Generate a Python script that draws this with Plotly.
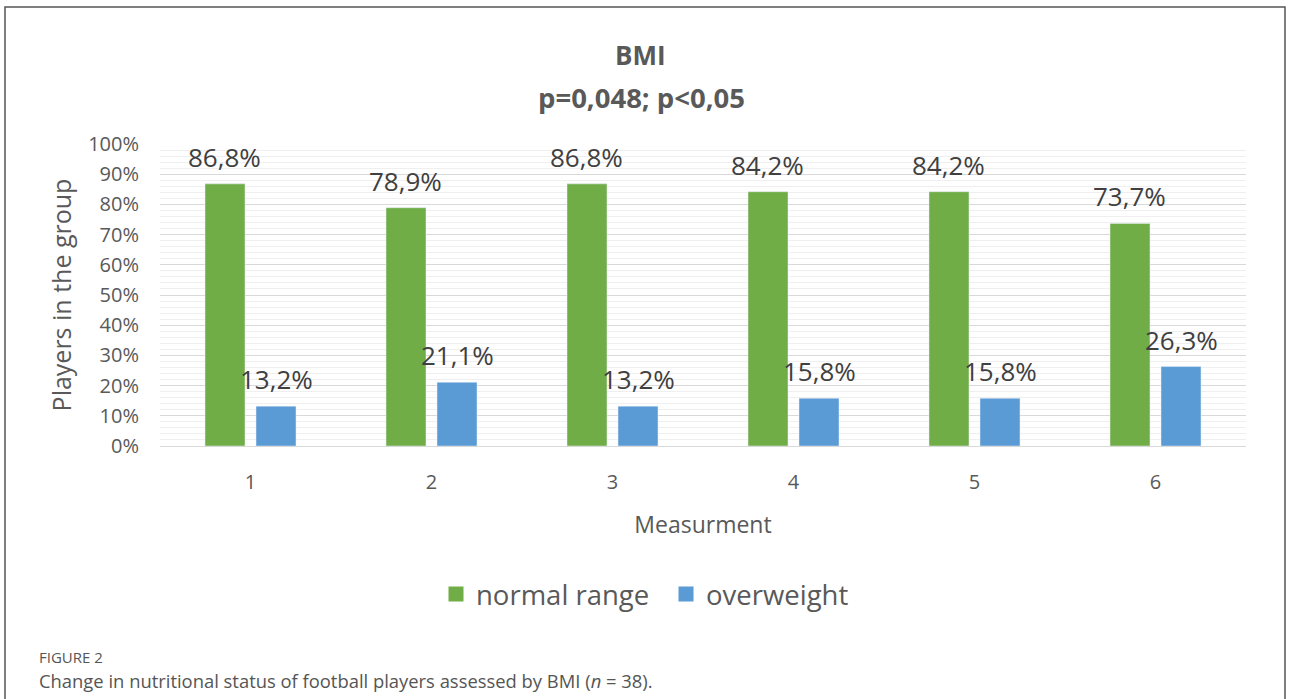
import plotly.graph_objects as go

categories = ["1", "2", "3", "4", "5", "6"]
normal_range = [0.868, 0.789, 0.868, 0.842, 0.842, 0.737]
overweight = [0.132, 0.211, 0.132, 0.158, 0.158, 0.263]
y_ticks = [0, 0.1, 0.2, 0.3, 0.4, 0.5, 0.6, 0.7, 0.8, 0.9, 1.0]
series_names = ["normal range", "overweight"]
series_colors = ["#70AD47", "#5B9BD5"]


def fmt(v):
    return f"{v*100:.1f}%".replace(".", ",")


FONT = "'Open Sans', sans-serif"
TXT = "#595959"

# plot-area geometry (pixels)
L, R, T, B = 160, 44, 144, 253
W, H = 1290, 699
PW, PH = W - L - R, H - T - B


def px_x(x):
    return (x - L) / PW


def px_y(y):
    return (H - B - y) / PH


fig = go.Figure()
for name, vals, col in zip(series_names, [normal_range, overweight], series_colors):
    fig.add_trace(go.Bar(x=categories, y=vals, name=name, marker_color=col,
                         showlegend=False, hoverinfo="skip"))
    # legend proxy with larger square symbol
    fig.add_trace(go.Scatter(x=[None], y=[None], mode="markers", name=name,
                             marker=dict(symbol="square", size=15, color=col),
                             showlegend=True, hoverinfo="skip"))

# data labels above bars (category index +/- group offset)
offset = 0.141
for k, vals in enumerate([normal_range, overweight]):
    sign = -1 if k == 0 else 1
    for i, v in enumerate(vals):
        fig.add_annotation(x=i + sign * offset, y=v, xref="x", yref="y",
                           text=fmt(v), showarrow=False, yshift=27, yanchor="middle",
                           font=dict(size=26, color="#404040", family=FONT))

fig.update_layout(
    width=W, height=H,
    paper_bgcolor="white", plot_bgcolor="white",
    font=dict(family=FONT, color=TXT),
    barmode="group", bargap=0.4365, bargroupgap=0.216,
    margin=dict(l=L, r=R, t=T, b=B),
    legend=dict(orientation="h", x=px_x(666), xanchor="center", xref="paper",
                y=(H - 594) / H, yref="container", yanchor="middle",
                font=dict(size=27.5, color=TXT), traceorder="normal",
                entrywidth=185, entrywidthmode="pixels"),
)

fig.update_yaxes(range=[0, 1], tickvals=y_ticks, tickformat=".0%",
                 tickfont=dict(size=20, color=TXT), ticklabelstandoff=20,
                 showgrid=True, gridcolor="#d9d9d9", gridwidth=1,
                 minor=dict(dtick=0.02, showgrid=True, gridcolor="#efefef", gridwidth=1),
                 zeroline=False, showline=False, ticks="",
                 title=dict(text="Players in the group", font=dict(size=25, color=TXT), standoff=9))
fig.update_xaxes(tickfont=dict(size=20, color=TXT), ticks="", showline=True,
                 linecolor="#d9d9d9", ticklabelstandoff=18,
                 title=dict(text="Measurment", font=dict(size=23, color=TXT), standoff=22))

# Titles
fig.add_annotation(text="<b>BMI</b>", xref="paper", yref="paper", x=px_x(640),
                   y=px_y(55), showarrow=False, yanchor="middle",
                   font=dict(size=26, color=TXT))
fig.add_annotation(text="<b>p=0,048; p&lt;0,05</b>", xref="paper", yref="paper", x=px_x(641),
                   y=px_y(97), showarrow=False, yanchor="middle",
                   font=dict(size=27.5, color=TXT))

# Caption
fig.add_annotation(text="FIGURE 2", xref="paper", yref="paper",
                   x=px_x(37), y=px_y(657), xanchor="left", yanchor="middle",
                   showarrow=False, font=dict(size=15, color="#555555"))
fig.add_annotation(text="Change in nutritional status of football players assessed by BMI (<i>n</i> = 38).",
                   xref="paper", yref="paper",
                   x=px_x(37), y=px_y(680), xanchor="left", yanchor="middle",
                   showarrow=False, font=dict(size=18.4, color="#555555"))

# Border box
fig.add_shape(type="rect", xref="paper", yref="paper",
              x0=px_x(5), x1=px_x(1285), y0=px_y(720), y1=px_y(7),
              line=dict(color="#555555", width=1.5), fillcolor="rgba(0,0,0,0)", layer="below")

fig.write_html("out.html", config={"displayModeBar": False},
               post_script="document.body.style.margin='0';")
